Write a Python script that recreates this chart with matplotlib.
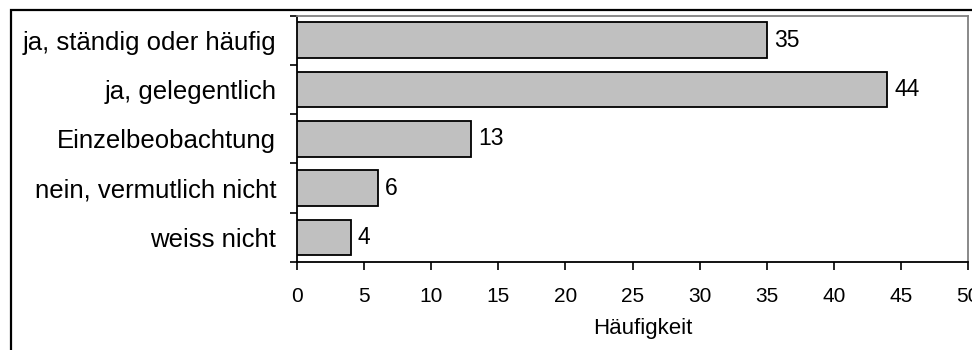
import matplotlib
matplotlib.use("Agg")
import matplotlib.pyplot as plt
from matplotlib.patches import Rectangle
from matplotlib.ticker import FixedLocator

categories = [
    "ja, ständig oder häufig",
    "ja, gelegentlich",
    "Einzelbeobachtung",
    "nein, vermutlich nicht",
    "weiss nicht",
]
counts = [35, 44, 13, 6, 4]
x_ticks = [0, 5, 10, 15, 20, 25, 30, 35, 40, 45, 50]
x_label = "Häufigkeit"

narrow = ["Liberation Sans Narrow", "Liberation Sans", "DejaVu Sans"]
regular = ["Liberation Sans", "DejaVu Sans"]

fig = plt.figure(figsize=(9.72, 3.5), dpi=100)
ax = fig.add_axes([0.3056, 0.2514, 0.6903, 0.7043])

pos = list(range(len(categories)))
ax.barh(pos, counts, height=0.72, color="#C0C0C0", edgecolor="black",
        linewidth=1.3, zorder=3)

for p, v in zip(pos, counts):
    ax.annotate(str(v), xy=(v, p), xytext=(5, 0), textcoords="offset points",
                ha="left", va="center", fontsize=16.5, family=regular,
                color="black")

ax.set_xlim(0, 50)
ax.set_ylim(len(categories) - 0.5, -0.5)

ax.set_yticks(pos)
ax.set_yticklabels(categories, fontsize=18.5, family=regular)
ax.yaxis.set_minor_locator(FixedLocator([i - 0.5 for i in range(len(categories) + 1)]))
ax.tick_params(axis="y", which="major", length=0, pad=15)
ax.tick_params(axis="y", which="minor", length=5, width=1.2, color="black",
               direction="out")

ax.set_xticks(x_ticks)
ax.set_xticklabels([str(t) for t in x_ticks], fontsize=15, family=narrow)
ax.tick_params(axis="x", which="major", length=6, width=1.2, color="black",
               direction="out", pad=12)
ax.set_xlabel(x_label, fontsize=16, family=narrow)
ax.xaxis.set_label_coords(0.515, -0.268)
ax.xaxis.label.set_va("center")

for side in ("left", "bottom"):
    ax.spines[side].set_color("black")
    ax.spines[side].set_linewidth(1.3)
for side in ("top", "right"):
    ax.spines[side].set_color("#808080")
    ax.spines[side].set_linewidth(1.3)

# outer chart frame
fig.patches.append(Rectangle((11 / 972, -0.2), 1.2, 1.2 - 10 / 350,
                             transform=fig.transFigure, fill=False,
                             edgecolor="black", linewidth=1.6, clip_on=False))

fig.savefig("out.png", dpi=100, facecolor="white")
